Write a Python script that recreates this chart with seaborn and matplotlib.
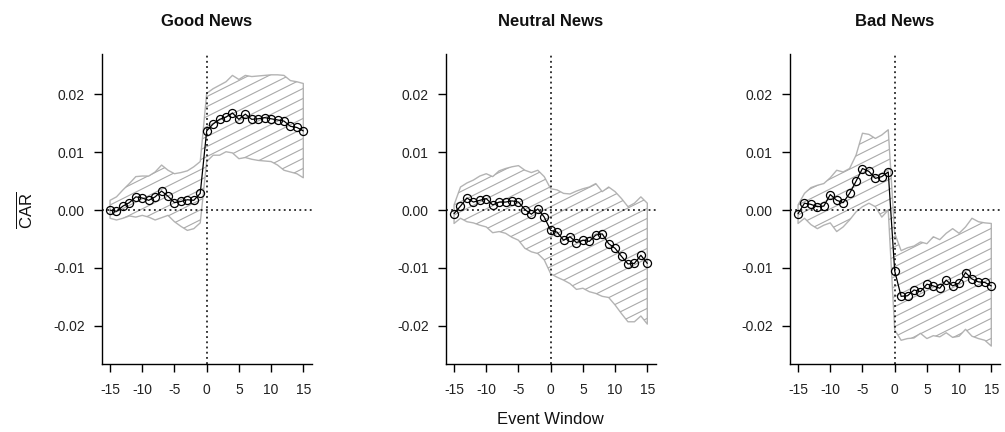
import numpy as np
import pandas as pd
import seaborn as sns
import matplotlib.pyplot as plt
from matplotlib.collections import LineCollection

# Event window days
days = list(range(-15, 16))

titles = ['Good News', 'Neutral News', 'Bad News']

# mean CAR per panel
car_good = [0.0000, -0.0002, 0.0007, 0.0013, 0.0023, 0.0021, 0.0017, 0.0023, 0.0033, 0.0024,
            0.0013, 0.0015, 0.0018, 0.0017, 0.0029, 0.0137, 0.0149, 0.0157, 0.0161, 0.0168,
            0.0157, 0.0166, 0.0157, 0.0158, 0.0160, 0.0158, 0.0156, 0.0154, 0.0145, 0.0143, 0.0137]
car_neutral = [-0.0006, 0.0007, 0.0021, 0.0014, 0.0017, 0.0020, 0.0009, 0.0014, 0.0014, 0.0016,
               0.0014, 0.0001, -0.0007, 0.0002, -0.0012, -0.0035, -0.0038, -0.0052, -0.0046, -0.0056,
               -0.0052, -0.0054, -0.0043, -0.0041, -0.0058, -0.0066, -0.0080, -0.0093, -0.0092, -0.0078, -0.0092]
car_bad = [-0.0006, 0.0012, 0.0010, 0.0006, 0.0007, 0.0027, 0.0017, 0.0013, 0.0029, 0.0050,
           0.0072, 0.0067, 0.0055, 0.0058, 0.0066, -0.0105, -0.0149, -0.0148, -0.0138, -0.0141,
           -0.0128, -0.0131, -0.0135, -0.0121, -0.0131, -0.0126, -0.0108, -0.0119, -0.0124, -0.0125, -0.0131]

# upper / lower bounds of the band
hi_good = [0.0017, 0.0023, 0.0035, 0.0046, 0.0058, 0.0059, 0.0059, 0.0066, 0.0078, 0.0069,
           0.0063, 0.0065, 0.0068, 0.0075, 0.0084, 0.0202, 0.0210, 0.0216, 0.0222, 0.0233,
           0.0226, 0.0233, 0.0231, 0.0232, 0.0233, 0.0234, 0.0234, 0.0233, 0.0224, 0.0222, 0.0219]
lo_good = [-0.0014, -0.0017, -0.0014, -0.0010, -0.0012, -0.0009, -0.0012, -0.0017, -0.0013, -0.0009,
           -0.0020, -0.0028, -0.0035, -0.0032, -0.0022, 0.0084, 0.0095, 0.0095, 0.0101, 0.0099,
           0.0089, 0.0091, 0.0088, 0.0086, 0.0085, 0.0084, 0.0078, 0.0069, 0.0066, 0.0063, 0.0056]
hi_neutral = [0.0009, 0.0040, 0.0047, 0.0052, 0.0059, 0.0063, 0.0058, 0.0068, 0.0072, 0.0075,
              0.0077, 0.0069, 0.0065, 0.0069, 0.0058, 0.0037, 0.0035, 0.0029, 0.0028, 0.0033,
              0.0037, 0.0040, 0.0046, 0.0032, 0.0040, 0.0032, 0.0020, 0.0006, 0.0012, 0.0023, 0.0012]
lo_neutral = [-0.0023, -0.0014, -0.0020, -0.0022, -0.0026, -0.0029, -0.0039, -0.0037, -0.0040, -0.0047,
              -0.0052, -0.0066, -0.0072, -0.0075, -0.0086, -0.0110, -0.0116, -0.0121, -0.0127, -0.0137,
              -0.0135, -0.0141, -0.0144, -0.0149, -0.0151, -0.0164, -0.0179, -0.0193, -0.0193, -0.0183, -0.0197]
hi_bad = [0.0009, 0.0029, 0.0039, 0.0043, 0.0046, 0.0056, 0.0069, 0.0066, 0.0072, 0.0095,
          0.0133, 0.0131, 0.0124, 0.0130, 0.0139, -0.0040, -0.0070, -0.0065, -0.0062, -0.0055,
          -0.0058, -0.0046, -0.0051, -0.0040, -0.0032, -0.0040, -0.0029, -0.0014, -0.0020, -0.0022, -0.0023]
lo_bad = [-0.0023, -0.0014, -0.0025, -0.0032, -0.0026, -0.0022, -0.0037, -0.0029, -0.0017, -0.0003,
          0.0006, 0.0012, 0.0006, -0.0012, 0.0000, -0.0207, -0.0225, -0.0222, -0.0221, -0.0213,
          -0.0222, -0.0217, -0.0219, -0.0212, -0.0220, -0.0218, -0.0206, -0.0218, -0.0222, -0.0225, -0.0235]

y_ticks = [-0.02, -0.01, 0.00, 0.01, 0.02]
x_ticks = [-15, -10, -5, 0, 5, 10, 15]

sns.set_style('ticks')
plt.rcParams['font.family'] = ['Liberation Sans', 'DejaVu Sans']
plt.rcParams['mathtext.fontset'] = 'custom'
plt.rcParams['mathtext.rm'] = 'Liberation Sans'
plt.rcParams['axes.unicode_minus'] = False
plt.rcParams['text.color'] = '#111111'
plt.rcParams['xtick.labelcolor'] = '#222222'
plt.rcParams['ytick.labelcolor'] = '#222222'

# long table for seaborn
rows = []
for name, car, hi, lo in zip(titles, [car_good, car_neutral, car_bad],
                             [hi_good, hi_neutral, hi_bad], [lo_good, lo_neutral, lo_bad]):
    for d, c, h, l in zip(days, car, hi, lo):
        rows.append({'panel': name, 'day': d, 'car': c, 'hi': h, 'lo': l})
df = pd.DataFrame(rows)

fig = plt.figure(figsize=(10.05, 4.32), dpi=100)
lefts = [102, 446, 790]


def hatch_band(ax, band, spacing=10, slope=0.5):
    # diagonal hatch lines clipped to the band polygon
    bb = ax.get_window_extent()
    s = slope * bb.width / bb.height
    step = spacing / bb.height
    cs = np.arange(-s - step, 1 + step, step)
    segs = [[(0, c), (1, c + s)] for c in cs]
    lc = LineCollection(segs, transform=ax.transAxes, colors='#aaaaaa', linewidths=0.8)
    ax.add_collection(lc)
    lc.set_clip_path(band.get_paths()[0], ax.transData)


for i, name in enumerate(titles):
    ax = fig.add_axes([lefts[i] / 1005, 1 - 364 / 432, 210 / 1005, 310 / 432])
    sub = df[df['panel'] == name]
    band = ax.fill_between(sub['day'], sub['lo'], sub['hi'], facecolor='none',
                           edgecolor='#b4b4b4', linewidth=1.0)
    hatch_band(ax, band)
    ax.axhline(0, color='black', linestyle=(0, (1.2, 2.2)), linewidth=1.1, zorder=3)
    ax.axvline(0, color='black', linestyle=(0, (1.2, 2.2)), linewidth=1.1, zorder=3)
    sns.lineplot(data=sub, x='day', y='car', ax=ax, color='black', linewidth=0.9,
                 marker='o', markersize=5.8, mfc='none', mec='black', mew=0.9, zorder=4)
    ax.set_xlim(-16.25, 16.35)
    ax.set_ylim(-0.0266, 0.027)
    ax.set_xticks(x_ticks)
    ax.set_yticks(y_ticks)
    ax.set_yticklabels([f'{v:.2f}' for v in y_ticks])
    ax.tick_params(axis='both', length=5.5, width=1.0, labelsize=10, color='black')
    ax.tick_params(axis='x', pad=8)
    ax.tick_params(axis='y', pad=7)
    for sp in ['left', 'bottom']:
        ax.spines[sp].set_linewidth(1.0)
        ax.spines[sp].set_color('black')
    sns.despine(ax=ax)
    ax.set_xlabel('')
    ax.set_ylabel('')
    ax.set_title(name, fontsize=12, fontweight='bold', pad=20)

fig.text(550 / 1005, 1 - 420 / 432, 'Event Window', ha='center', va='center', fontsize=12)
fig.text(25 / 1005, 1 - 210 / 432, r'$\overline{\mathrm{CAR}}$', ha='center', va='center',
         rotation=90, fontsize=12)

fig.savefig('out.png', dpi=100)
